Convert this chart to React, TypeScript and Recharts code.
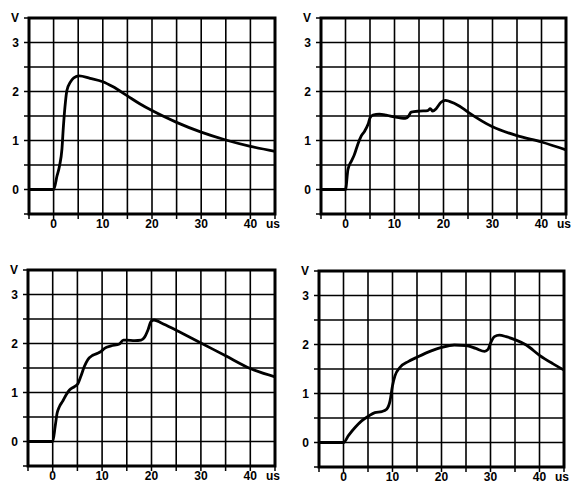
import React from "react";
import { LineChart, Line, XAxis, YAxis, CartesianGrid, ReferenceArea } from "recharts";

// time axis (us) and voltage readings (V) for the four oscillograms
const t1 = [-5, 0, 0.7, 1.2, 1.7, 2.0, 2.4, 2.7, 3.4, 4.1, 5.2, 7.4, 10, 12, 15, 17.5, 20, 25, 30, 35, 40, 45];
const v1 = [0, 0, 0.28, 0.48, 0.83, 1.3, 1.78, 2.02, 2.19, 2.28, 2.32, 2.27, 2.2, 2.1, 1.91, 1.75, 1.61, 1.37, 1.17, 1.01, 0.88, 0.78];

const t2 = [-5, 0, 0.5, 1.2, 1.8, 2.5, 3.2, 3.9, 4.6, 5.0, 5.6, 6.9, 8.3, 10, 12.2, 12.9, 13.4, 15.1, 16.8, 17.3, 17.8, 18.5, 19.5, 20.4, 21.2, 23.3, 25, 30, 35, 40, 45];
const v2 = [0, 0, 0.41, 0.58, 0.71, 0.92, 1.09, 1.19, 1.33, 1.46, 1.52, 1.54, 1.52, 1.48, 1.45, 1.5, 1.58, 1.6, 1.61, 1.65, 1.6, 1.65, 1.78, 1.82, 1.8, 1.7, 1.58, 1.28, 1.1, 0.97, 0.81];

const t3 = [-5, 0, 0.5, 0.9, 1.35, 2.0, 2.7, 3.4, 4.4, 5.1, 5.7, 6.4, 7.1, 8.1, 9.1, 9.8, 10.5, 11.8, 13.5, 14.3, 14.9, 16.6, 17.9, 18.6, 19.3, 19.9, 20.5, 22, 25, 30, 35, 40, 45];
const v3 = [0, 0, 0.31, 0.58, 0.71, 0.82, 0.95, 1.05, 1.12, 1.18, 1.33, 1.53, 1.67, 1.76, 1.8, 1.84, 1.9, 1.95, 1.99, 2.07, 2.07, 2.06, 2.07, 2.13, 2.28, 2.45, 2.48, 2.42, 2.27, 2.01, 1.75, 1.49, 1.32];

const t4 = [-5, 0, 1.0, 2.4, 3.7, 5, 6.4, 7.8, 8.8, 9.5, 10, 10.5, 11.5, 13.2, 15.2, 17.9, 20, 22.6, 25, 27, 28.8, 29.5, 30.1, 30.8, 31.8, 33.2, 35.2, 37.3, 40, 42.7, 45];
const v4 = [0, 0, 0.14, 0.31, 0.44, 0.53, 0.61, 0.63, 0.68, 0.85, 1.16, 1.36, 1.53, 1.65, 1.75, 1.87, 1.94, 1.99, 1.98, 1.92, 1.86, 1.9, 2.05, 2.16, 2.19, 2.16, 2.09, 1.99, 1.78, 1.61, 1.48];

const xTicks = [-5, 0, 5, 10, 15, 20, 25, 30, 35, 40, 45];
const xLabels: Record<number, string> = { 0: "0", 10: "10", 20: "20", 30: "30", 40: "40", 45: "us" };
const yTicks = [-0.5, 0, 0.5, 1, 1.5, 2, 2.5, 3, 3.5];
const yLabels: Record<number, string> = { 0: "0", 1: "1", 2: "2", 3: "3", 3.5: "V" };

const font = { fontFamily: "'Liberation Sans', Arial, sans-serif", fontSize: 12, fontWeight: 700 };

const zip = (t: number[], v: number[]) => t.map((x, i) => ({ t: x, v: v[i] }));

const XTick = ({ x, y, payload }: any) => {
    const label = xLabels[payload.value] ?? "";
    if (!label) return null;
    return (
        <text x={label === "us" ? x - 2 : x} y={y} dy="0.71em" textAnchor="middle" fill="#000" {...font}>
            {label}
        </text>
    );
};

const YTick = ({ x, y, payload }: any) => {
    const label = yLabels[payload.value] ?? "";
    if (!label) return null;
    return (
        <text x={x} y={y} dy="0.355em" textAnchor="end" fill="#000" {...font}>
            {label}
        </text>
    );
};

interface PanelProps {
    data: { t: number; v: number }[];
    left: number;
    top: number;
    w: number;
    h: number;
}

function Panel({ data, left, top, w, h }: PanelProps) {
    const yW = 30;
    const xH = 30;
    const mTop = 18;
    const mRight = 12;
    return (
        <div style={{ position: "absolute", left: left - yW, top: top - mTop }}>
            <LineChart width={yW + w + mRight} height={mTop + h + xH} data={data}
                margin={{ top: mTop, right: mRight, left: 0, bottom: 0 }}>
                <CartesianGrid stroke="#000" strokeWidth={1.6} />
                <XAxis dataKey="t" type="number" domain={[-5, 45]} ticks={xTicks} height={xH}
                    axisLine={false} tickSize={5} tickMargin={0}
                    tickLine={{ stroke: "#000", strokeWidth: 1.5 }} tick={<XTick />} interval={0} />
                <YAxis type="number" domain={[-0.5, 3.5]} ticks={yTicks} width={yW}
                    axisLine={false} tickSize={5} tickMargin={5}
                    tickLine={{ stroke: "#000", strokeWidth: 1.5 }} tick={<YTick />} interval={0} />
                <ReferenceArea x1={-5} x2={45} y1={-0.5} y2={3.5} fill="none" stroke="#000" strokeWidth={3} />
                <Line type="monotone" dataKey="v" stroke="#000" strokeWidth={2.8} dot={false}
                    isAnimationActive={false} />
            </LineChart>
        </div>
    );
}

export default function App() {
    return (
        <div style={{ position: "absolute", left: 0, top: 0, width: 572, height: 483, background: "#fff", overflow: "hidden" }}>
            <Panel data={zip(t1, v1)} left={29} top={18} w={246} h={196} />
            <Panel data={zip(t2, v2)} left={321} top={18} w={245} h={196} />
            <Panel data={zip(t3, v3)} left={28} top={270} w={247} h={196} />
            <Panel data={zip(t4, v4)} left={319} top={271} w={245} h={196} />
        </div>
    );
}
